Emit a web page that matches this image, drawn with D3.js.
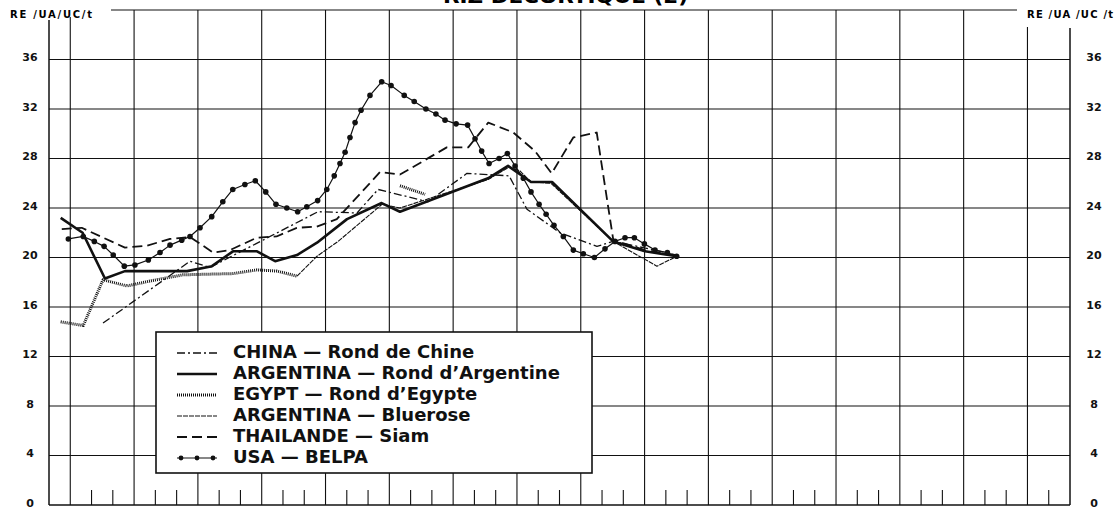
<!DOCTYPE html>
<html>
<head>
<meta charset="utf-8">
<script src="https://cdnjs.cloudflare.com/ajax/libs/d3/7.8.5/d3.min.js"></script>
<style>
	body { margin: 0; background: #fff; }
	svg { display: block; font-family: "DejaVu Sans", sans-serif; font-weight: bold; }
</style>
</head>
<body>
<div id="chart"></div>
<script>
// values: [month, RE/UA/UC per t]
var yTicks = [0, 4, 8, 12, 16, 20, 24, 28, 32, 36];
var gridMonths = d3.range(1, 47, 3);
var tickMonths = d3.range(1, 48);

var china = [[2.54,14.7],[6.63,19.7],[7.57,19.2],[12.65,23.7],[14.48,23.6],[15.47,25.5],[17.82,24.5],
	[19.65,26.8],[21.63,26.6],[22.47,23.9],[24.02,22.0],[25.76,20.9],[26.52,21.3],[27.93,20.8],[29.52,20.2]];

var argRond = [[0.55,23.2],[1.58,22.0],[2.63,18.3],[3.57,18.9],[6.49,18.9],[7.66,19.3],[8.65,20.5],
	[9.78,20.5],[10.63,19.7],[11.66,20.2],[12.60,21.2],[14.01,23.1],[15.64,24.4],[16.50,23.7],
	[20.64,26.4],[21.58,27.4],[22.66,26.1],[23.65,26.1],[26.52,21.3],[28.02,20.5],[29.52,20.1]];

var egypt = [[0.55,14.8],[1.61,14.5],[2.54,18.2],[3.67,17.7],[4.75,18.1],[6.30,18.6],[8.65,18.7],
	[9.78,19.0],[10.72,18.9],[11.66,18.5],[14.0,null],[16.50,25.8],[17.68,25.1]];

var bluerose = [[11.66,18.5],[12.60,20.1],[13.59,21.3],[15.66,24.3],[16.50,24.0],[20.64,26.3],
	[21.63,27.3],[22.14,27.0],[22.66,26.1],[23.60,26.0],[26.52,21.3],[28.58,19.3],[29.52,20.1]];

var thailande = [[0.60,22.3],[1.54,22.4],[3.57,20.8],[4.59,20.95],[5.69,21.5],[6.63,21.65],[7.72,20.4],
	[8.51,20.6],[9.77,21.6],[10.70,21.7],[11.65,22.4],[12.59,22.5],[13.53,23.1],[15.56,26.9],
	[16.50,26.7],[18.70,28.9],[19.71,28.9],[20.65,30.9],[21.83,30.1],[22.85,28.6],[23.63,26.8],
	[24.65,29.7],[25.75,30.1],[26.53,21.4],[28.02,20.6],[29.52,20.1]];

var usa = [[0.91,21.5],[1.61,21.7],[2.13,21.3],[2.59,20.9],[3.02,20.2],[3.54,19.3],[4.04,19.4],
	[4.67,19.8],[5.22,20.4],[5.69,21.0],[6.24,21.4],[6.63,21.7],[7.10,22.4],[7.65,23.3],[8.17,24.5],
	[8.64,25.5],[9.21,25.9],[9.70,26.2],[10.19,25.3],[10.67,24.3],[11.18,24.0],[11.69,23.7],
	[12.12,24.1],[12.63,24.6],[13.06,25.5],[13.41,26.6],[13.68,27.6],[13.92,28.5],[14.15,29.7],
	[14.39,30.9],[14.67,31.9],[15.09,33.1],[15.64,34.2],[16.08,33.9],[16.70,33.1],[17.17,32.6],
	[17.72,32.0],[18.19,31.6],[18.62,31.1],[19.14,30.8],[19.68,30.7],[20.03,29.6],[20.34,28.6],
	[20.69,27.6],[21.16,28.0],[21.55,28.4],[21.91,27.4],[22.30,26.4],[22.66,25.3],[23.04,24.3],
	[23.37,23.5],[23.74,22.6],[24.18,21.7],[24.65,20.6],[25.12,20.3],[25.64,20.0],[26.14,20.7],
	[26.61,21.3],[27.08,21.6],[27.52,21.6],[27.99,21.1],[28.49,20.6],[29.07,20.4],[29.51,20.1]];

var names = ["CHINA \u2014 Rond de Chine", "ARGENTINA \u2014 Rond d\u2019Argentine", "EGYPT \u2014 Rond d\u2019Egypte",
	"ARGENTINA \u2014 Bluerose", "THAILANDE \u2014 Siam", "USA \u2014 BELPA"];

var series = [
	{name: names[0], data: china, width: 1.3, dash: "8,3,2,3"},
	{name: names[1], data: argRond, width: 2.6, dash: null},
	{name: names[2], data: egypt, width: 3, dash: "1,1"},
	{name: names[3], data: bluerose, width: 1.1, dash: "5,1"},
	{name: names[4], data: thailande, width: 1.8, dash: "10,5"},
	{name: names[5], data: usa, width: 1.2, dash: null, dots: true}
];

var W = 1115, H = 510;
var x = d3.scaleLinear().domain([0, 48]).range([49, 1070]);
var y = d3.scaleLinear().domain([0, 40]).range([505, 10]);

var svg = d3.select("#chart").append("svg")
	.attr("width", W)
	.attr("height", H);

// title, cut off by the top edge like in the scan
svg.append("text")
	.attr("x", 443).attr("y", 3)
	.attr("textLength", 245).attr("lengthAdjust", "spacingAndGlyphs")
	.style("font-size", "19px")
	.text("RIZ D\u00c9CORTIQU\u00c9 (2)");

var grid = svg.append("g").attr("stroke", "#111").attr("fill", "none");

grid.selectAll("line.h")
	.data(yTicks.filter(function(d){ return d > 0; }))
	.enter().append("line")
	.attr("class", "h")
	.attr("x1", x(0)).attr("x2", x(48))
	.attr("y1", function(d){ return y(d); })
	.attr("y2", function(d){ return y(d); })
	.attr("stroke-width", 1.1);

grid.selectAll("line.v")
	.data(gridMonths)
	.enter().append("line")
	.attr("class", "v")
	.attr("x1", function(d){ return x(d); })
	.attr("x2", function(d){ return x(d); })
	.attr("y1", y(0))
	.attr("y2", function(d){ return d == 1 ? 17 : (d == 46 ? 27 : y(40)); })
	.attr("stroke-width", 1.1);

// top border (broken at both ends for the unit labels)
grid.append("line")
	.attr("x1", 111).attr("x2", 1017)
	.attr("y1", y(40)).attr("y2", y(40))
	.attr("stroke-width", 1.2);

// small month ticks along the base
grid.selectAll("line.t")
	.data(tickMonths.filter(function(d){ return gridMonths.indexOf(d) < 0; }))
	.enter().append("line")
	.attr("class", "t")
	.attr("x1", function(d){ return x(d); })
	.attr("x2", function(d){ return x(d); })
	.attr("y1", y(0)).attr("y2", y(0) - 15)
	.attr("stroke-width", 1.1);

// axes
var left = svg.append("g")
	.attr("transform", "translate(" + x(0) + ",0)")
	.call(d3.axisLeft(y).tickValues(yTicks).tickSize(0).tickPadding(19));
var right = svg.append("g")
	.attr("transform", "translate(" + x(48) + ",0)")
	.call(d3.axisRight(y).tickValues(yTicks).tickSize(0).tickPadding(24));

[left, right].forEach(function(g){
	g.select(".domain").remove();
	g.selectAll("text")
		.attr("text-anchor", "middle")
		.attr("dy", "0.1em")
		.style("font-family", "DejaVu Sans, sans-serif")
		.style("font-weight", "bold")
		.style("font-size", "11px")
		.attr("fill", "#111");
});

svg.append("line")
	.attr("x1", x(0)).attr("x2", x(0)).attr("y1", 20).attr("y2", y(0))
	.attr("stroke", "#111").attr("stroke-width", 1.5);
svg.append("line")
	.attr("x1", x(48)).attr("x2", x(48)).attr("y1", 28).attr("y2", y(0))
	.attr("stroke", "#111").attr("stroke-width", 1.5);
svg.append("line")
	.attr("x1", x(0)).attr("x2", x(48)).attr("y1", y(0)).attr("y2", y(0))
	.attr("stroke", "#111").attr("stroke-width", 1.6);

svg.append("text")
	.attr("x", 10).attr("y", 18)
	.attr("textLength", 82).attr("lengthAdjust", "spacing")
	.style("font-size", "10px")
	.text("RE /UA/UC/t");
svg.append("text")
	.attr("x", 1027).attr("y", 18)
	.attr("textLength", 86).attr("lengthAdjust", "spacing")
	.style("font-size", "10px")
	.text("RE /UA /UC /t");

// series
var line = d3.line()
	.defined(function(d){ return d[1] != null; })
	.x(function(d){ return x(d[0]); })
	.y(function(d){ return y(d[1]); });

series.forEach(function(s){
	svg.append("path")
		.datum(s.data)
		.attr("d", line)
		.attr("fill", "none")
		.attr("stroke", "#111")
		.attr("stroke-width", s.width)
		.attr("stroke-dasharray", s.dash)
		.attr("stroke-linejoin", "round");
	if (s.dots) {
		svg.selectAll(null)
			.data(s.data)
			.enter().append("circle")
			.attr("cx", function(d){ return x(d[0]); })
			.attr("cy", function(d){ return y(d[1]); })
			.attr("r", 2.8)
			.attr("fill", "#111");
	}
});

// legend
var legend = svg.append("g");
legend.append("rect")
	.attr("x", 156).attr("y", 332)
	.attr("width", 436).attr("height", 141)
	.attr("fill", "#fff").attr("stroke", "#111").attr("stroke-width", 1.6);

var rows = legend.selectAll("g.row")
	.data(series)
	.enter().append("g")
	.attr("class", "row")
	.attr("transform", function(d, i){ return "translate(0," + (352 + 21 * i) + ")"; });

rows.append("line")
	.attr("x1", 177).attr("x2", 217)
	.attr("y1", 1).attr("y2", 1)
	.attr("stroke", "#111")
	.attr("stroke-width", function(d){ return d.width; })
	.attr("stroke-dasharray", function(d){ return d.dash; });

rows.filter(function(d){ return d.dots; })
	.selectAll("circle")
	.data([181, 197, 213])
	.enter().append("circle")
	.attr("cx", function(d){ return d; })
	.attr("cy", 1).attr("r", 2.4).attr("fill", "#111");

rows.append("text")
	.attr("x", 233).attr("y", 0)
	.attr("dy", "0.36em")
	.style("font-size", "18px")
	.attr("fill", "#111")
	.text(function(d){ return d.name; });
</script>
</body>
</html>
